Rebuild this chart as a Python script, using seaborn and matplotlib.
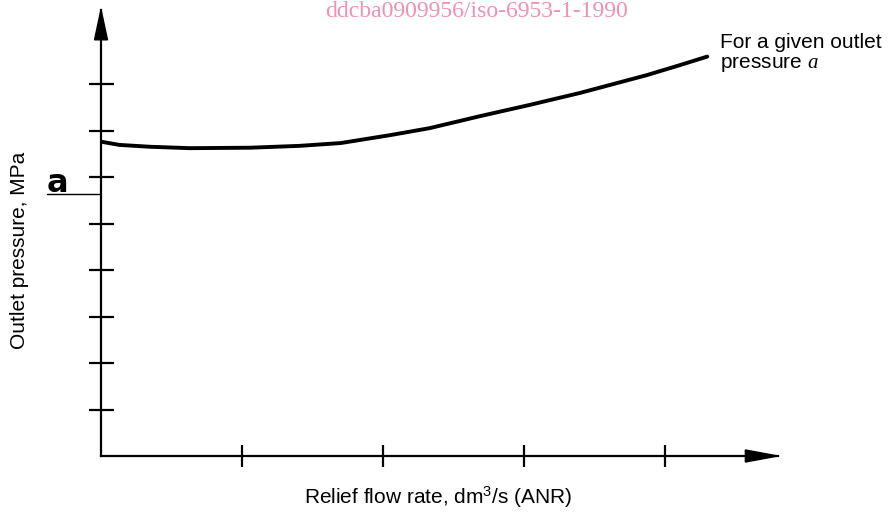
import matplotlib
matplotlib.use("Agg")
import matplotlib.pyplot as plt
import seaborn as sns
import pandas as pd

# values (axis units = tick spacing)
flow_rate = [0.0, 0.13, 0.35, 0.63, 1.06, 1.41, 1.70, 2.05, 2.33, 2.69, 3.04, 3.40, 3.87, 4.11, 4.30]
outlet_pressure = [6.76, 6.69, 6.65, 6.62, 6.63, 6.67, 6.73, 6.90, 7.05, 7.31, 7.55, 7.81, 8.19, 8.41, 8.59]
x_ticks = [1, 2, 3, 4]
y_ticks = [1, 2, 3, 4, 5, 6, 7, 8]
a_level = 5.63
x_max, y_max = 4.8, 9.6

df = pd.DataFrame({"flow": flow_rate, "pressure": outlet_pressure})

sns.set_theme(style="white")
plt.rcParams["font.family"] = ["Liberation Sans", "DejaVu Sans"]
plt.rcParams["text.color"] = "black"
plt.rcParams["mathtext.fontset"] = "custom"
plt.rcParams["mathtext.rm"] = "Liberation Sans"
plt.rcParams["mathtext.it"] = "Liberation Serif:italic"

fig = plt.figure(figsize=(8.91, 5.18), dpi=100)
ax = fig.add_axes([101 / 891, 62 / 518, 676.8 / 891, 446.4 / 518])

sns.lineplot(data=df, x="flow", y="pressure", ax=ax, color="black",
             linewidth=2.8, estimator=None, sort=True)

ax.set_xlim(0, x_max)
ax.set_ylim(0, y_max)
ax.set_xticks(x_ticks)
ax.set_yticks(y_ticks)
ax.set_xticklabels([])
ax.set_yticklabels([])
ax.tick_params(axis="both", direction="inout", length=16, width=1.6,
               color="black", bottom=True, left=True)
ax.tick_params(axis="y", length=18)
for side in ["top", "right"]:
    ax.spines[side].set_visible(False)
for side in ["left", "bottom"]:
    ax.spines[side].set_color("black")
    ax.spines[side].set_linewidth(1.6)

# arrow heads on both axes
ax.fill([0, -0.046, 0.046], [y_max, y_max - 0.65, y_max - 0.65],
        color="black", clip_on=False, zorder=5)
ax.fill([x_max, x_max - 0.23, x_max - 0.23], [0, 0.13, -0.13],
        color="black", clip_on=False, zorder=5)

# marker for outlet pressure a
ax.plot([-0.383, 0], [a_level, a_level], color="black", linewidth=1.0, clip_on=False)
fig.text(57 / 891, 1 - 192 / 518, "a", ha="center", va="baseline",
         fontsize=23, fontweight="bold", family="DejaVu Sans")

ax.set_xlabel("")
ax.set_ylabel("")
fig.text(438 / 891, 1 - 497 / 518, "Relief flow rate, dm$^{3}$/s (ANR)",
         ha="center", va="center", fontsize=15)
fig.text(20 / 891, 1 - 250 / 518, "Outlet pressure, MPa", rotation=90,
         ha="center", va="center", fontsize=15)
fig.text(720 / 891, 1 - 33 / 518, "For a given outlet\npressure $a$",
         ha="left", va="top", fontsize=15, linespacing=1.1)

# watermark along the top edge
fig.text(477 / 891, 1 - 1 / 518, "ddcba0909956/iso-6953-1-1990",
         ha="center", va="top", fontsize=17, color="#f090b4",
         family="Liberation Serif")

fig.savefig("out.png", dpi=100)
